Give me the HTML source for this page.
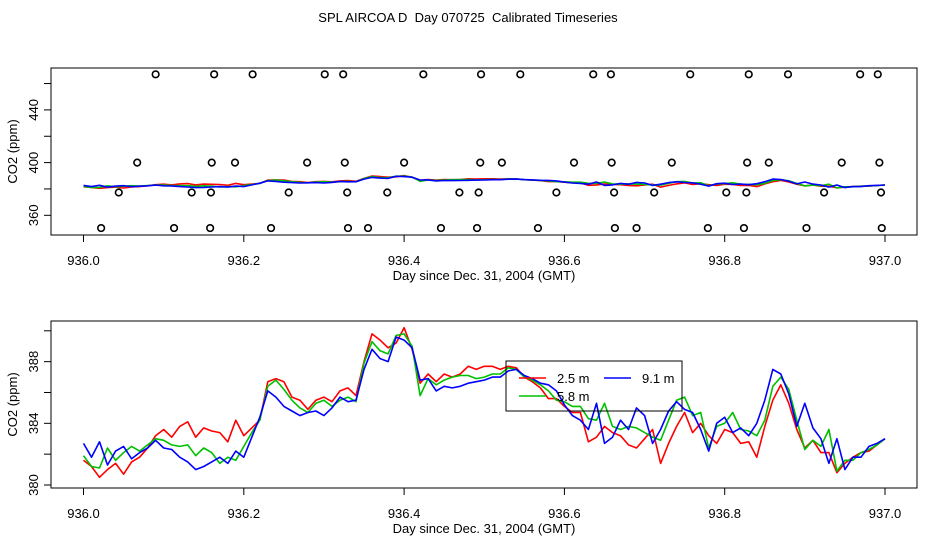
<!DOCTYPE html>
<html><head><meta charset="utf-8"><style>
html,body{margin:0;padding:0;background:#fff;}
svg{display:block;font-family:"Liberation Sans",sans-serif;}
.pre{white-space:pre;}
</style></head><body>
<svg id="chart" width="936" height="540" viewBox="0 0 936 540" xmlns="http://www.w3.org/2000/svg">
<text class="pre" xml:space="preserve" x="468" y="22" text-anchor="middle" font-size="13">SPL AIRCOA D  Day 070725  Calibrated Timeseries</text>
<g id="top"></g>
<g id="bot"></g>
</svg>
<script>
const days = [];
const red = [381.6,381.2,380.5,381.0,381.4,380.7,381.5,381.8,382.4,383.2,383.6,383.1,383.8,384.1,383.1,383.7,383.5,383.4,382.8,384.2,383.2,383.7,384.2,386.7,386.9,386.7,385.7,385.5,384.9,385.5,385.7,385.4,386.1,386.3,385.8,388.0,389.8,389.4,388.9,389.2,390.2,388.8,386.6,387.2,386.7,387.2,387.0,387.2,387.7,387.5,387.7,387.7,387.5,387.7,387.6,387.0,386.7,386.3,385.6,385.6,385.1,384.7,384.7,382.8,383.1,383.8,383.4,383.2,382.6,382.4,383.0,383.6,381.4,382.7,383.8,384.7,383.4,384.0,383.2,382.7,383.6,383.4,382.7,382.8,381.8,383.8,385.5,386.5,385.3,383.6,382.4,382.9,382.1,382.1,380.8,381.4,381.8,382.1,382.2,382.6,383.0];
const green = [381.9,381.2,381.1,382.4,381.6,382.1,382.5,382.2,382.6,383.0,382.9,382.6,382.5,382.6,381.9,382.4,382.1,381.4,381.8,381.6,382.5,383.4,384.2,386.4,386.8,386.2,385.5,385.0,384.7,385.3,385.5,385.1,385.5,385.7,385.4,387.9,389.3,388.7,388.5,389.7,389.8,389.0,385.8,386.9,386.5,386.8,387.0,387.1,387.1,386.9,387.0,387.2,387.2,387.6,387.5,387.0,386.8,386.5,386.1,385.5,385.4,385.1,385.1,384.3,384.2,385.3,383.8,383.6,383.8,383.7,383.4,383.1,382.9,384.2,385.5,385.7,384.5,384.7,382.4,383.8,384.0,384.7,383.6,383.5,383.2,384.2,386.4,387.0,386.2,384.2,382.3,382.9,382.5,383.6,380.9,381.6,381.6,382.1,382.3,382.6,383.0];
const blue = [382.7,381.8,382.8,381.3,382.2,382.5,381.7,382.1,382.4,382.9,382.4,382.3,381.8,381.5,381.0,381.2,381.5,381.8,381.4,382.2,381.8,383.1,384.4,386.1,385.7,385.1,384.8,384.5,384.7,384.8,384.5,385.0,385.7,385.4,385.5,387.5,388.8,388.2,388.0,389.6,389.4,388.9,386.8,386.9,386.1,386.4,386.3,386.4,386.6,386.7,386.8,387.0,387.0,387.4,387.5,387.1,386.9,386.6,386.5,386.1,385.2,384.5,384.2,383.6,385.3,382.7,383.1,384.2,383.6,385.0,384.5,382.7,383.6,384.8,385.4,384.9,384.7,383.6,382.2,384.0,384.4,383.4,383.7,383.2,384.0,385.5,387.5,387.2,385.9,383.8,385.3,383.7,383.0,381.4,383.0,381.0,381.8,381.8,382.5,382.7,383.0];
const calDays467 = [936.090,936.163,936.211,936.301,936.324,936.424,936.496,936.545,936.636,936.658,936.757,936.830,936.879,936.969,936.991];
const calDays400 = [936.067,936.160,936.189,936.279,936.326,936.400,936.495,936.522,936.612,936.659,936.734,936.828,936.855,936.946,936.993];
const calDays377 = [936.044,936.135,936.159,936.256,936.329,936.379,936.469,936.493,936.590,936.662,936.712,936.802,936.827,936.924,936.995];
const calDays350 = [936.022,936.113,936.158,936.234,936.330,936.355,936.446,936.491,936.567,936.663,936.690,936.779,936.824,936.902,936.996];
const calLevels = [467, 400, 377.3, 350.3];
const xTicks = ["936.0","936.2","936.4","936.6","936.8","937.0"];
const topYTicks = [360,380,400,420,440,460];
const topYLabels = ["360","","400","","440",""];
const botYTicks = [380,382,384,386,388,390];
const botYLabels = ["380","","384","","388",""];
for (let i = 0; i < red.length; i++) days.push(936 + i * 0.01);

const NS = "http://www.w3.org/2000/svg";
function mk(tag, attrs, parent) {
  const e = document.createElementNS(NS, tag);
  for (const k in attrs) e.setAttribute(k, attrs[k]);
  parent.appendChild(e);
  return e;
}
const xs = d => 83.5 + (d - 936) * 801.5;

function panel(g, top, bottom, ys, yTicks, yLabels, prefix) {
  const box = mk('rect', {x:51, y:top, width:866, height:bottom-top, fill:'none', stroke:'#000', 'stroke-width':1}, g);
  
  
  xTicks.forEach(t => {
    const x = xs(parseFloat(t));
    const l = mk('line', {x1:x, y1:bottom, x2:x, y2:bottom+7, stroke:'#000'}, g);
    
    
    const tx = mk('text', {x:x, y:bottom+30, 'text-anchor':'middle', 'font-size':13}, g);
    tx.textContent = t;
    
    
  });
  const xt = mk('text', {x:484, y:bottom+45, 'text-anchor':'middle', 'font-size':13}, g);
  xt.textContent = 'Day since Dec. 31, 2004 (GMT)';
  
  
  yTicks.forEach((v, i) => {
    const y = ys(v);
    const l = mk('line', {x1:44, y1:y, x2:51, y2:y, stroke:'#000'}, g);
    
    
    if (yLabels[i]) {
      const tx = mk('text', {x:0, y:0, 'text-anchor':'middle', 'font-size':13, transform:`translate(38,${y}) rotate(-90)`}, g);
      tx.textContent = yLabels[i];
      
      
    }
  });
  const yt = mk('text', {x:0, y:0, 'text-anchor':'middle', 'font-size':13, transform:`translate(17,${(top+bottom)/2}) rotate(-90)`}, g);
  yt.textContent = 'CO2 (ppm)';
  
  
  [[red,'#ff0000','red'],[green,'#00c000','green'],[blue,'#0000ff','blue']].forEach(([arr,col,nm]) => {
    const pts = arr.map((v, i) => xs(days[i]).toFixed(1) + ',' + ys(v).toFixed(1)).join(' ');
    const p = mk('polyline', {points:pts, fill:'none', stroke:col, 'stroke-width':1.6, 'stroke-linejoin':'round'}, g);
    
    
  });
}

const topY = v => 215.3 - (v - 360) * 1.3175;
const botY = v => 485 - (v - 380) * 15.42;
const gTop = document.getElementById('top');
const gBot = document.getElementById('bot');
panel(gTop, 68, 235, topY, topYTicks, topYLabels, 'top');
[calDays467, calDays400, calDays377, calDays350].forEach((arr, k) => {
  arr.forEach(d => {
    const c = mk('circle', {cx:xs(d), cy:topY(calLevels[k]), r:3.3, fill:'none', stroke:'#000', 'stroke-width':1.6}, gTop);
    
    
  });
});
panel(gBot, 321, 488, botY, botYTicks, botYLabels, 'bottom');

const lg = mk('g', {}, gBot);


const lr = mk('rect', {x:506, y:361, width:176, height:50, fill:'none', stroke:'#000'}, lg);


[['2.5 m','#ff0000',519,557,378],['9.1 m','#0000ff',604,642,378],['5.8 m','#00c000',519,557,396]].forEach(([t,c,lx,tx,y]) => {
  const l = mk('line', {x1:lx, y1:y, x2:lx+27, y2:y, stroke:c, 'stroke-width':1.6}, lg);
  
  
  const te = mk('text', {x:tx, y:y+5, 'font-size':13}, lg);
  te.textContent = t;
  
  
});
</script>
</body></html>
